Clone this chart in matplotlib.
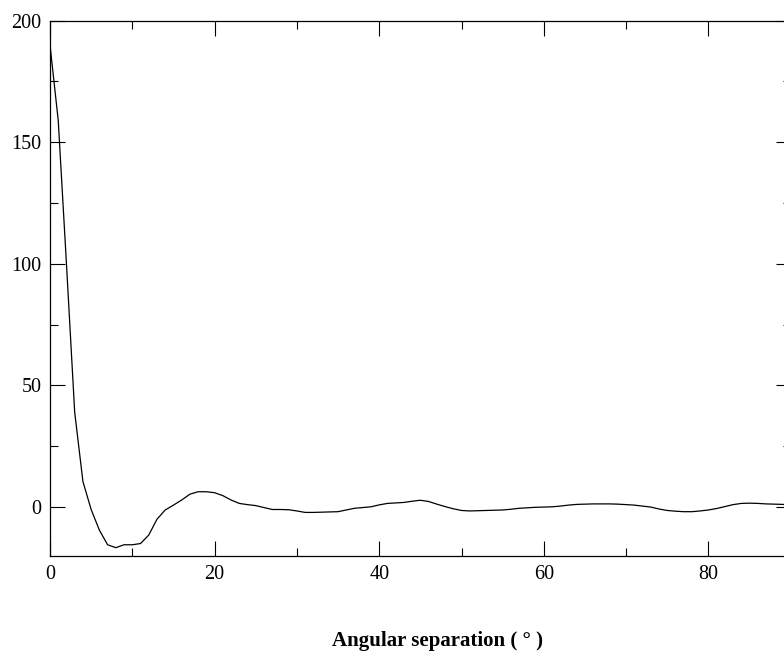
import matplotlib
matplotlib.use("Agg")
import matplotlib.pyplot as plt
from matplotlib.ticker import MultipleLocator

angle = list(range(0, 91))
values = [190, 159, 100, 39, 10.5, -1, -9.5, -15.5, -16.7, -15.5,
          -15.5, -15, -11.5, -5, -1.2, 0.8, 2.9, 5.3, 6.3, 6.3,
          5.9, 4.7, 2.9, 1.5, 1.0, 0.6, -0.2, -1, -1, -1.1,
          -1.6, -2.2, -2.2, -2.1, -2.0, -1.9, -1.2, -0.5, -0.2, 0.1,
          0.9, 1.5, 1.7, 1.9, 2.4, 2.8, 2.3, 1.2, 0.2, -0.7,
          -1.4, -1.6, -1.5, -1.4, -1.3, -1.2, -0.9, -0.5, -0.3, -0.1,
          0.0, 0.1, 0.4, 0.8, 1.1, 1.2, 1.3, 1.3, 1.3, 1.2,
          1.0, 0.8, 0.4, 0.0, -0.8, -1.4, -1.7, -1.9, -1.9, -1.6,
          -1.2, -0.6, 0.2, 1.0, 1.5, 1.6, 1.5, 1.3, 1.2, 1.1, 1.0]

plt.rcParams['font.family'] = ['Liberation Serif', 'DejaVu Serif']

fig = plt.figure(figsize=(7.84, 6.51), dpi=100)
ax = fig.add_axes([50/784, 1-555.7/651, 740.7/784, (555.7-20.7)/651])

ax.plot(angle, values, color='black', linewidth=0.9)
ax.set_xlim(0, 90)
ax.set_ylim(-20, 200)

ax.xaxis.set_major_locator(MultipleLocator(20))
ax.xaxis.set_minor_locator(MultipleLocator(10))
ax.yaxis.set_major_locator(MultipleLocator(50))
ax.yaxis.set_minor_locator(MultipleLocator(25))
ax.tick_params(which='both', direction='in', top=True, right=True, width=0.8, labelsize=14.5)
ax.tick_params(which='major', length=10.8)
ax.tick_params(which='minor', length=5.8)
ax.tick_params(axis='x', pad=7)
ax.tick_params(axis='y', pad=6)
for s in ax.spines.values():
    s.set_linewidth(0.9)

fig.text(437/784, 1-641/651, 'Angular separation ( ° )', ha='center', va='center',
         fontsize=15, fontweight='bold')

fig.savefig('out.png', dpi=100)
